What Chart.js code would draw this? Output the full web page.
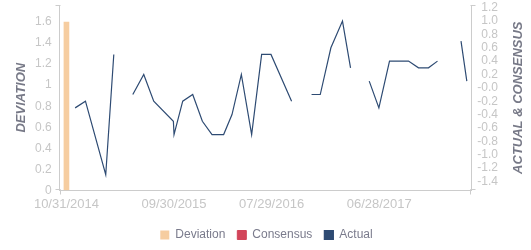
<!DOCTYPE html>
<html>
<head>
<meta charset="utf-8">
<script src="https://cdn.jsdelivr.net/npm/chart.js@4.4.1/dist/chart.umd.min.js"></script>
<style>
  html, body { margin: 0; padding: 0; background: #fff; }
  canvas { display: block; }
</style>
</head>
<body>
<canvas id="chart" width="531" height="250"></canvas>
<script>
// monthly "Actual" readings (right axis); null = missing month, breaks the line
const actualDates = [
  '11/27/2014', '12/29/2014', '03/02/2015', '03/27/2015', '04/28/2015',
  '05/25/2015', '06/28/2015', '07/29/2015', '09/28/2015', '09/30/2015',
  '10/27/2015', '11/27/2015', '12/27/2015', '01/26/2016', '03/02/2016',
  '03/28/2016', '04/26/2016', '05/28/2016', '06/28/2016', '07/27/2016',
  '09/29/2016', '10/31/2016', '11/30/2016', '12/27/2016', '01/29/2017',
  '03/06/2017', '03/31/2017', '04/28/2017', '05/28/2017', '06/27/2017',
  '07/30/2017', '08/29/2017', '09/27/2017', '10/28/2017', '11/28/2017',
  '12/26/2017', '01/31/2018', '03/09/2018', '03/27/2018'
];
const actualValues = [
  -0.3, -0.2, -1.3, 0.5, null,
  -0.1, 0.2, -0.2, -0.5, -0.7,
  -0.2, -0.1, -0.5, -0.7, -0.7,
  -0.4, 0.2, -0.7, 0.5, 0.5,
  -0.2, null, -0.1, -0.1, 0.6,
  1.0, 0.3, null, 0.1, -0.3,
  0.4, 0.4, 0.4, 0.3, 0.3,
  0.4, null, 0.7, 0.1
];
const consensusValues = [];
const deviationDates = ['10/31/2014'];
const deviationValues = [1.6];

const xTickLabels = ['10/31/2014', '09/30/2015', '07/29/2016', '06/28/2017'];
const xRange = ['10/10/2014', '04/10/2018'];
const leftTicks = [0, 0.2, 0.4, 0.6, 0.8, 1, 1.2, 1.4, 1.6];
const rightTicks = [1.2, 1.0, 0.8, 0.6, 0.4, 0.2, 0, -0.2, -0.4, -0.6, -0.8, -1.0, -1.2, -1.4];
const rightTickLabels = ['1.2', '1.0', '0.8', '0.6', '0.4', '0.2', '-0.0', '-0.2', '-0.4', '-0.6', '-0.8', '-1.0', '-1.2', '-1.4'];

function toDay(s) {
  const [m, d, y] = s.split('/').map(Number);
  return Date.UTC(y, m - 1, d) / 86400000;
}
function pad2(n) { return String(n).padStart(2, '0'); }
function fromDay(v) {
  const dt = new Date(v * 86400000);
  return pad2(dt.getUTCMonth() + 1) + '/' + pad2(dt.getUTCDate()) + '/' + dt.getUTCFullYear();
}

const FONT = '"Liberation Sans", Arial, sans-serif';
const tickColor = '#c6c6c6';
const axisColor = '#cccccc';
const titleColor = '#777987';
const clear = 'rgba(0,0,0,0)';

// axis titles (both read bottom-to-top) and the small end ticks of each axis
const axisDecor = {
  id: 'axisDecor',
  afterDraw(chart) {
    const { ctx, chartArea: a } = chart;
    ctx.save();
    ctx.strokeStyle = axisColor;
    ctx.lineWidth = 1;
    ctx.beginPath();
    const l = Math.round(a.left) + 0.5, r = Math.round(a.right) - 0.5;
    const t = Math.round(a.top) + 0.5, b = Math.round(a.bottom) - 0.5;
    ctx.moveTo(l - 5, t); ctx.lineTo(l, t);
    ctx.moveTo(l - 5, b); ctx.lineTo(l, b);
    ctx.moveTo(r, t); ctx.lineTo(r + 5, t);
    ctx.moveTo(r, b); ctx.lineTo(r + 5, b);
    ctx.moveTo(l, b); ctx.lineTo(l, b + 5);
    ctx.moveTo(r, b); ctx.lineTo(r, b + 5);
    ctx.stroke();

    const mid = (a.top + a.bottom) / 2;
    ctx.fillStyle = titleColor;
    ctx.font = 'italic bold 13px ' + FONT;
    ctx.textAlign = 'center';
    ctx.textBaseline = 'middle';
    [[21, 'DEVIATION'], [518, 'ACTUAL & CONSENSUS']].forEach(([x, text]) => {
      ctx.save();
      ctx.translate(x, mid);
      ctx.rotate(-Math.PI / 2);
      ctx.fillText(text, 0, 0);
      ctx.restore();
    });
    ctx.restore();
  }
};

const ctx = document.getElementById('chart').getContext('2d');
new Chart(ctx, {
  type: 'line',
  data: {
    datasets: [
      {
        type: 'bar',
        label: 'Deviation',
        data: deviationDates.map((d, i) => ({ x: toDay(d), y: deviationValues[i] })),
        backgroundColor: '#f6cda0',
        borderWidth: 0,
        barThickness: 5,
        xAxisID: 'x',
        yAxisID: 'yL'
      },
      {
        label: 'Consensus',
        data: consensusValues,
        backgroundColor: '#d2455a',
        borderColor: '#d2455a',
        borderWidth: 1,
        xAxisID: 'x',
        yAxisID: 'yR'
      },
      {
        label: 'Actual',
        data: actualDates.map((d, i) => ({ x: toDay(d), y: actualValues[i] })),
        backgroundColor: '#2e4b73',
        borderColor: '#2e4b73',
        borderWidth: 1.2,
        pointRadius: 0,
        tension: 0,
        spanGaps: false,
        xAxisID: 'x',
        yAxisID: 'yR'
      }
    ]
  },
  options: {
    responsive: false,
    animation: false,
    layout: { padding: { left: 35, right: 33, top: 5, bottom: -1 } },
    scales: {
      x: {
        type: 'linear',
        offset: false,
        min: toDay(xRange[0]),
        max: toDay(xRange[1]),
        grid: { display: true, drawOnChartArea: false, drawTicks: true, tickLength: 1.4, color: clear },
        border: { display: true, color: axisColor },
        afterBuildTicks: (scale) => { scale.ticks = xTickLabels.map(s => ({ value: toDay(s) })); },
        ticks: {
          autoSkip: false,
          maxRotation: 0,
          padding: 0,
          color: tickColor,
          font: { family: FONT, size: 13, lineHeight: 1.94 },
          callback: (v) => fromDay(v)
        }
      },
      yL: {
        type: 'linear',
        position: 'left',
        min: 0,
        max: 1.762,
        grid: { display: true, drawOnChartArea: false, drawTicks: true, tickLength: 8, color: clear },
        border: { display: true, color: axisColor },
        afterBuildTicks: (scale) => { scale.ticks = leftTicks.map(v => ({ value: v })); },
        ticks: {
          autoSkip: false,
          padding: 0,
          color: tickColor,
          font: { family: FONT, size: 12, lineHeight: 0.8 },
          callback: (v) => String(v)
        }
      },
      yR: {
        type: 'linear',
        position: 'right',
        min: -1.535,
        max: 1.24,
        grid: { display: true, drawOnChartArea: false, drawTicks: true, tickLength: 6, color: clear },
        border: { display: true, color: axisColor },
        afterBuildTicks: (scale) => { scale.ticks = rightTicks.map(v => ({ value: v })); },
        ticks: {
          autoSkip: false,
          padding: 0,
          crossAlign: 'far',
          color: tickColor,
          font: { family: FONT, size: 12, lineHeight: 0.8 },
          callback: (v) => rightTickLabels[rightTicks.indexOf(v)]
        }
      }
    },
    plugins: {
      legend: {
        position: 'bottom',
        labels: {
          boxWidth: 9,
          boxHeight: 9,
          padding: 12,
          color: '#7a7b8c',
          font: { family: FONT, size: 12 }
        }
      },
      tooltip: { enabled: false }
    }
  },
  plugins: [axisDecor]
});
</script>
</body>
</html>
